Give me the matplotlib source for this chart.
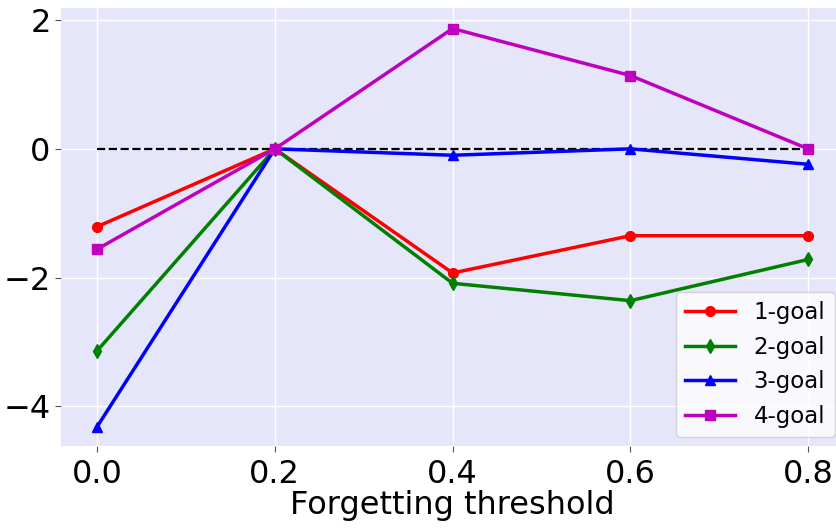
import matplotlib
matplotlib.use("Agg")
import matplotlib.pyplot as plt

thresholds = [0.0, 0.2, 0.4, 0.6, 0.8]
goal1 = [-1.21, 0.0, -1.93, -1.35, -1.35]
goal2 = [-3.14, 0.0, -2.09, -2.36, -1.72]
goal3 = [-4.32, 0.0, -0.10, 0.0, -0.24]
goal4 = [-1.56, 0.0, 1.87, 1.14, 0.0]
labels = ["1-goal", "2-goal", "3-goal", "4-goal"]
xticks = [0.0, 0.2, 0.4, 0.6, 0.8]
yticks = [-4, -2, 0, 2]

fig = plt.figure(figsize=(8.37, 5.31), dpi=100)
ax = fig.add_axes([0.073, 0.16, 0.935, 0.825])
ax.set_facecolor("lavender")
for s in ax.spines.values():
    s.set_visible(False)
ax.grid(True, color="white", linewidth=1)
ax.set_axisbelow(True)

ax.plot([thresholds[0], thresholds[-1]], [0, 0], "k--", linewidth=1.6)
series = [goal1, goal2, goal3, goal4]
styles = [("r", "o"), ("g", "d"), ("b", "^"), ("m", "s")]
for ys, (c, m), lab in zip(series, styles, labels):
    ax.plot(thresholds, ys, color=c, marker=m, linewidth=2.5, markersize=7, label=lab)

ax.set_xlim(-0.0405, 0.84)
ax.set_ylim(-4.62, 2.19)
ax.set_xticks(xticks)
ax.set_xticklabels([f"{v:.1f}" for v in xticks])
ax.set_yticks(yticks)
ax.set_yticklabels([str(v).replace("-", "\u2212") for v in yticks])
ax.tick_params(labelsize=23, length=4, color="#555555")
ax.tick_params(axis="x", pad=5)
ax.set_xlabel("Forgetting threshold", fontsize=23, labelpad=0)
ax.legend(loc="lower right", fontsize=16.5, handlelength=2.2, borderaxespad=0.4)

fig.savefig("out.png", dpi=100)
